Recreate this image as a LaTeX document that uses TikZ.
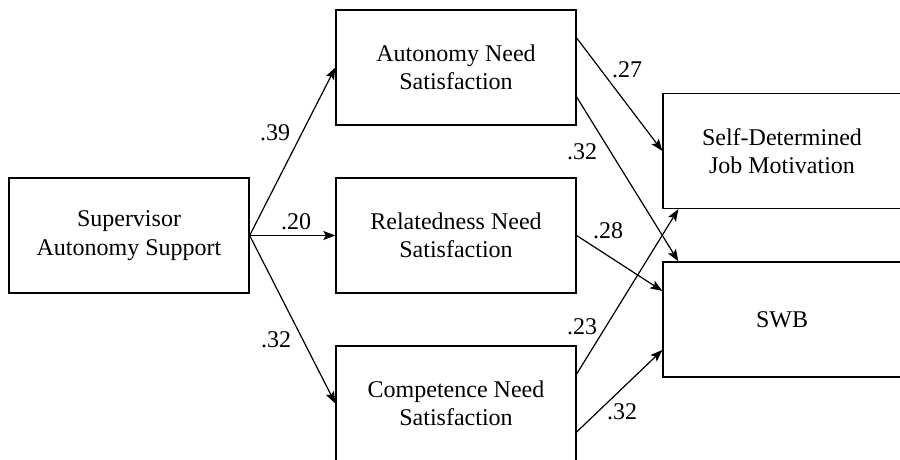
\documentclass[tikz,border=0pt]{standalone}
\usepackage{fontspec}
\setmainfont{Liberation Serif}[Ligatures=TeX]
\newfontfamily\refserif{Liberation Serif}
\usetikzlibrary{arrows.meta,calc}
\begin{document}
\begin{tikzpicture}[x=1pt,y=-1pt,
  box/.style={draw,line width=1.3pt,minimum width=240pt,minimum height=115pt,align=center,inner sep=0pt,
    font=\refserif\fontsize{24}{28.5}\selectfont},
  path/.style={line width=1.2pt,-{Stealth[length=12pt,width=9pt,inset=2.5pt]}},
  coef/.style={font=\refserif\fontsize{24}{28}\selectfont,inner sep=0pt}]
\useasboundingbox (0,0) rectangle (900,460);
\node[box] (sup) at (129,235.5) {Supervisor\\Autonomy Support};
\node[box] (aut) at (456,67.5) {Autonomy Need\\Satisfaction};
\node[box] (rel) at (456,235.5) {Relatedness Need\\Satisfaction};
\node[box] (com) at (456,403.5) {Competence Need\\Satisfaction};
\node[box,minimum width=238pt] (sdm) at (782,151) {Self-Determined\\Job Motivation};
\node[box,minimum width=238pt] (swb) at (782,319.5) {SWB};
\draw[path] (sup.east) -- (aut.west);
\draw[path] (sup.east) -- (rel.west);
\draw[path] (sup.east) -- (com.west);
\draw[path] ($(aut.east)+(0,-29.5)$) -- (sdm.west);
\draw[path] ($(aut.east)+(0,29.5)$) -- ($(swb.north west)+(16,0)$);
\draw[path] (rel.east) -- ($(swb.west)+(0,-28.5)$);
\draw[path] ($(com.east)+(0,-29.5)$) -- ($(sdm.south west)+(16,0)$);
\draw[path] ($(com.east)+(0,28.5)$) -- ($(swb.west)+(0,30.5)$);
\node[coef] (c1) at (275,133) {.39};
\node[coef] (c2) at (296,222) {.20};
\node[coef] (c3) at (276,340) {.32};
\node[coef] (c4) at (627,70) {.27};
\node[coef] (c5) at (582,152) {.32};
\node[coef] (c6) at (608,231) {.28};
\node[coef] (c7) at (582,327) {.23};
\node[coef] (c8) at (622,412) {.32};
\end{tikzpicture}
\end{document}
